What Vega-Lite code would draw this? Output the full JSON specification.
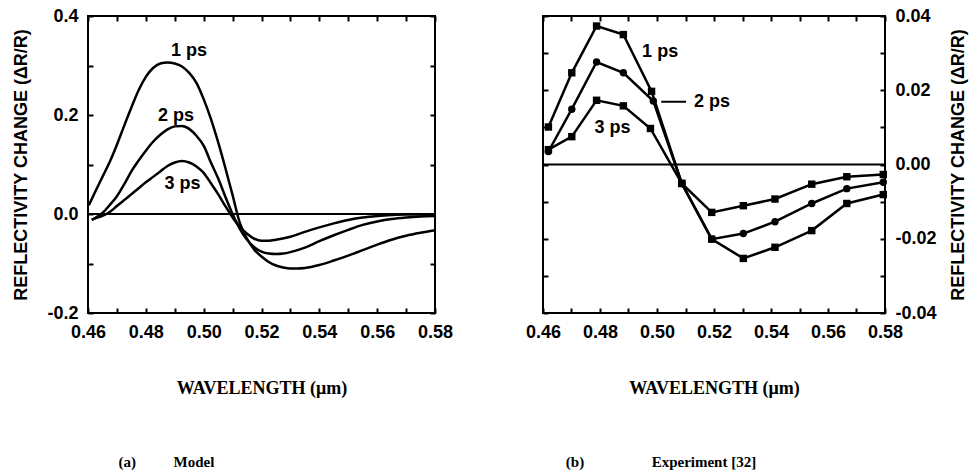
{
  "$schema": "https://vega.github.io/schema/vega-lite/v6.json",
  "background": "white",
  "padding": {"left": 11, "top": 6, "right": 0, "bottom": 0},
  "bounds": "flush",
  "spacing": 108,
  "config": {
    "view": {"stroke": "black", "strokeWidth": 2},
    "axis": {
      "domain": false, "grid": false, "ticks": true, "tickColor": "black", "tickWidth": 2, "tickSize": 5, "offset": -5,
      "labelFont": "Liberation Sans", "labelFontWeight": "bold", "labelFontSize": 18, "labelColor": "black",
      "labelPadding": 10, "labelFlush": false, "labelOverlap": false, "labelBound": false,
      "titleColor": "black"
    },
    "title": {"font": "Liberation Serif", "fontSize": 15, "fontWeight": "bold", "color": "black", "orient": "bottom", "anchor": "middle", "frame": "group", "offset": 58}
  },
  "datasets": {
    "model": [
      {"t":"1 ps","wl":0.4603,"r":0.018},{"t":"1 ps","wl":0.4625,"r":0.045},{"t":"1 ps","wl":0.465,"r":0.075},{"t":"1 ps","wl":0.4675,"r":0.105},{"t":"1 ps","wl":0.47,"r":0.14},{"t":"1 ps","wl":0.4725,"r":0.178},{"t":"1 ps","wl":0.475,"r":0.215},{"t":"1 ps","wl":0.4775,"r":0.25},{"t":"1 ps","wl":0.48,"r":0.277},{"t":"1 ps","wl":0.4825,"r":0.295},{"t":"1 ps","wl":0.485,"r":0.304},{"t":"1 ps","wl":0.4875,"r":0.306},{"t":"1 ps","wl":0.49,"r":0.304},{"t":"1 ps","wl":0.4925,"r":0.298},{"t":"1 ps","wl":0.495,"r":0.285},{"t":"1 ps","wl":0.4975,"r":0.265},{"t":"1 ps","wl":0.5,"r":0.232},{"t":"1 ps","wl":0.5025,"r":0.192},{"t":"1 ps","wl":0.505,"r":0.145},{"t":"1 ps","wl":0.5075,"r":0.093},{"t":"1 ps","wl":0.51,"r":0.038},{"t":"1 ps","wl":0.5125,"r":-0.018},{"t":"1 ps","wl":0.515,"r":-0.05},{"t":"1 ps","wl":0.5175,"r":-0.072},{"t":"1 ps","wl":0.52,"r":-0.086},{"t":"1 ps","wl":0.5225,"r":-0.097},{"t":"1 ps","wl":0.525,"r":-0.104},{"t":"1 ps","wl":0.5275,"r":-0.108},{"t":"1 ps","wl":0.53,"r":-0.11},{"t":"1 ps","wl":0.5325,"r":-0.11},{"t":"1 ps","wl":0.535,"r":-0.109},{"t":"1 ps","wl":0.54,"r":-0.103},{"t":"1 ps","wl":0.545,"r":-0.094},{"t":"1 ps","wl":0.55,"r":-0.084},{"t":"1 ps","wl":0.555,"r":-0.073},{"t":"1 ps","wl":0.56,"r":-0.062},{"t":"1 ps","wl":0.565,"r":-0.052},{"t":"1 ps","wl":0.57,"r":-0.044},{"t":"1 ps","wl":0.575,"r":-0.038},{"t":"1 ps","wl":0.58,"r":-0.033},
      {"t":"2 ps","wl":0.4613,"r":-0.012},{"t":"2 ps","wl":0.4625,"r":-0.008},{"t":"2 ps","wl":0.465,"r":0.002},{"t":"2 ps","wl":0.4675,"r":0.018},{"t":"2 ps","wl":0.47,"r":0.036},{"t":"2 ps","wl":0.4725,"r":0.06},{"t":"2 ps","wl":0.475,"r":0.086},{"t":"2 ps","wl":0.4775,"r":0.108},{"t":"2 ps","wl":0.48,"r":0.128},{"t":"2 ps","wl":0.4825,"r":0.146},{"t":"2 ps","wl":0.485,"r":0.16},{"t":"2 ps","wl":0.4875,"r":0.171},{"t":"2 ps","wl":0.49,"r":0.177},{"t":"2 ps","wl":0.4925,"r":0.178},{"t":"2 ps","wl":0.495,"r":0.172},{"t":"2 ps","wl":0.4975,"r":0.158},{"t":"2 ps","wl":0.5,"r":0.138},{"t":"2 ps","wl":0.5025,"r":0.104},{"t":"2 ps","wl":0.505,"r":0.072},{"t":"2 ps","wl":0.5075,"r":0.035},{"t":"2 ps","wl":0.51,"r":0.0},{"t":"2 ps","wl":0.5125,"r":-0.03},{"t":"2 ps","wl":0.515,"r":-0.052},{"t":"2 ps","wl":0.5175,"r":-0.067},{"t":"2 ps","wl":0.52,"r":-0.076},{"t":"2 ps","wl":0.5225,"r":-0.08},{"t":"2 ps","wl":0.525,"r":-0.081},{"t":"2 ps","wl":0.5275,"r":-0.08},{"t":"2 ps","wl":0.53,"r":-0.077},{"t":"2 ps","wl":0.535,"r":-0.068},{"t":"2 ps","wl":0.54,"r":-0.055},{"t":"2 ps","wl":0.545,"r":-0.043},{"t":"2 ps","wl":0.55,"r":-0.032},{"t":"2 ps","wl":0.555,"r":-0.022},{"t":"2 ps","wl":0.56,"r":-0.015},{"t":"2 ps","wl":0.565,"r":-0.01},{"t":"2 ps","wl":0.57,"r":-0.007},{"t":"2 ps","wl":0.575,"r":-0.005},{"t":"2 ps","wl":0.58,"r":-0.004},
      {"t":"3 ps","wl":0.4613,"r":-0.012},{"t":"3 ps","wl":0.4625,"r":-0.009},{"t":"3 ps","wl":0.465,"r":-0.004},{"t":"3 ps","wl":0.4675,"r":0.004},{"t":"3 ps","wl":0.47,"r":0.016},{"t":"3 ps","wl":0.4725,"r":0.028},{"t":"3 ps","wl":0.475,"r":0.04},{"t":"3 ps","wl":0.4775,"r":0.052},{"t":"3 ps","wl":0.48,"r":0.064},{"t":"3 ps","wl":0.4825,"r":0.075},{"t":"3 ps","wl":0.485,"r":0.086},{"t":"3 ps","wl":0.4875,"r":0.097},{"t":"3 ps","wl":0.49,"r":0.104},{"t":"3 ps","wl":0.4925,"r":0.107},{"t":"3 ps","wl":0.495,"r":0.104},{"t":"3 ps","wl":0.4975,"r":0.096},{"t":"3 ps","wl":0.5,"r":0.083},{"t":"3 ps","wl":0.5025,"r":0.062},{"t":"3 ps","wl":0.505,"r":0.04},{"t":"3 ps","wl":0.5075,"r":0.016},{"t":"3 ps","wl":0.51,"r":-0.007},{"t":"3 ps","wl":0.5125,"r":-0.026},{"t":"3 ps","wl":0.515,"r":-0.04},{"t":"3 ps","wl":0.5175,"r":-0.05},{"t":"3 ps","wl":0.52,"r":-0.054},{"t":"3 ps","wl":0.5225,"r":-0.054},{"t":"3 ps","wl":0.525,"r":-0.052},{"t":"3 ps","wl":0.53,"r":-0.046},{"t":"3 ps","wl":0.535,"r":-0.036},{"t":"3 ps","wl":0.54,"r":-0.027},{"t":"3 ps","wl":0.545,"r":-0.019},{"t":"3 ps","wl":0.55,"r":-0.012},{"t":"3 ps","wl":0.555,"r":-0.007},{"t":"3 ps","wl":0.56,"r":-0.004},{"t":"3 ps","wl":0.565,"r":-0.002},{"t":"3 ps","wl":0.57,"r":-0.001},{"t":"3 ps","wl":0.58,"r":-0.001}
    ],
    "exp": [
      {"t":"1 ps","wl":0.4619,"r":0.0101},{"t":"1 ps","wl":0.4701,"r":0.0247},{"t":"1 ps","wl":0.4788,"r":0.0373},{"t":"1 ps","wl":0.4882,"r":0.035},{"t":"1 ps","wl":0.4981,"r":0.0197},{"t":"1 ps","wl":0.5087,"r":-0.0051},{"t":"1 ps","wl":0.5192,"r":-0.0201},{"t":"1 ps","wl":0.5303,"r":-0.0253},{"t":"1 ps","wl":0.5414,"r":-0.0223},{"t":"1 ps","wl":0.5543,"r":-0.0178},{"t":"1 ps","wl":0.5666,"r":-0.0105},{"t":"1 ps","wl":0.5794,"r":-0.0081},
      {"t":"2 ps","wl":0.4619,"r":0.0035},{"t":"2 ps","wl":0.4701,"r":0.0149},{"t":"2 ps","wl":0.4788,"r":0.0276},{"t":"2 ps","wl":0.4882,"r":0.0247},{"t":"2 ps","wl":0.4987,"r":0.0171},{"t":"2 ps","wl":0.5087,"r":-0.0051},{"t":"2 ps","wl":0.5192,"r":-0.0201},{"t":"2 ps","wl":0.5303,"r":-0.0186},{"t":"2 ps","wl":0.5414,"r":-0.0154},{"t":"2 ps","wl":0.5543,"r":-0.0105},{"t":"2 ps","wl":0.5666,"r":-0.0065},{"t":"2 ps","wl":0.5794,"r":-0.0048},
      {"t":"3 ps","wl":0.4619,"r":0.004},{"t":"3 ps","wl":0.4701,"r":0.0075},{"t":"3 ps","wl":0.4788,"r":0.0173},{"t":"3 ps","wl":0.4882,"r":0.0158},{"t":"3 ps","wl":0.4977,"r":0.0097},{"t":"3 ps","wl":0.5087,"r":-0.0051},{"t":"3 ps","wl":0.5192,"r":-0.0129},{"t":"3 ps","wl":0.5303,"r":-0.0111},{"t":"3 ps","wl":0.5414,"r":-0.0093},{"t":"3 ps","wl":0.5543,"r":-0.0053},{"t":"3 ps","wl":0.5666,"r":-0.0033},{"t":"3 ps","wl":0.5794,"r":-0.0027}
    ],
    "mlab": [
      {"label":"1 ps","wl":0.4949,"r":0.329},{"label":"2 ps","wl":0.4904,"r":0.198},{"label":"3 ps","wl":0.4927,"r":0.0606}
    ],
    "elab": [
      {"label":"1 ps","wl":0.5011,"r":0.0303},{"label":"2 ps","wl":0.5193,"r":0.0169},{"label":"3 ps","wl":0.4844,"r":0.0097}
    ],
    "leader": [{"wl":0.5015,"wl2":0.5102,"r":0.0169}],
    "zero": [{"r":0}]
  },
  "hconcat": [
    {
      "width": 347, "height": 297,
      "title": {"text": "(a)\u2003\u2003\u00a0\u00a0Model", "dx": -95},
      "resolve": {"axis": {"x": "independent", "y": "independent"}},
      "layer": [
        {
          "data": {"name": "model"},
          "mark": {"type": "line", "color": "black", "strokeWidth": 2.5, "interpolate": "monotone"},
          "encoding": {
            "x": {"field": "wl", "type": "quantitative", "scale": {"domain": [0.46, 0.58], "nice": false, "zero": false},
              "axis": {"orient": "bottom", "values": [0.46,0.47,0.48,0.49,0.5,0.51,0.52,0.53,0.54,0.55,0.56,0.57,0.58],
                "labelExpr": "abs(datum.value*50 - round(datum.value*50)) < 0.001 ? format(datum.value, '.2f') : ''",
                "title": "WAVELENGTH (\u03bcm)", "titleFont": "Liberation Serif", "titleFontSize": 18, "titleFontWeight": "bold", "titlePadding": 38}},
            "y": {"field": "r", "type": "quantitative", "scale": {"domain": [-0.2, 0.4], "nice": false, "zero": false},
              "axis": {"orient": "left", "values": [-0.2,-0.1,0,0.1,0.2,0.3,0.4],
                "labelExpr": "abs(datum.value*5 - round(datum.value*5)) < 0.001 ? replace(format(datum.value, '.1f'), '\u2212', '-') : ''",
                "title": "REFLECTIVITY CHANGE (\u0394R/R)", "titleFont": "Liberation Sans", "titleFontSize": 18, "titleFontWeight": "bold", "titlePadding": 16}},
            "detail": {"field": "t"}
          }
        },
        {
          "data": {"name": "zero"},
          "mark": {"type": "rule", "color": "black", "strokeWidth": 2},
          "encoding": {"y": {"field": "r", "type": "quantitative", "axis": null}}
        },
        {
          "data": {"name": "mlab"},
          "mark": {"type": "text", "font": "Liberation Sans", "fontWeight": "bold", "fontSize": 18, "color": "black"},
          "encoding": {
            "x": {"field": "wl", "type": "quantitative", "axis": {"orient": "top", "values": [0.46,0.47,0.48,0.49,0.5,0.51,0.52,0.53,0.54,0.55,0.56,0.57,0.58], "labels": false, "title": null}},
            "y": {"field": "r", "type": "quantitative", "axis": {"orient": "right", "values": [-0.2,-0.1,0,0.1,0.2,0.3,0.4], "labels": false, "title": null}},
            "text": {"field": "label"}
          }
        }
      ]
    },
    {
      "width": 342, "height": 297,
      "title": {"text": "(b)\u2003\u2003\u2003\u2003\u00a0\u00a0Experiment [32]", "dx": -53},
      "resolve": {"axis": {"x": "independent", "y": "independent"}},
      "layer": [
        {
          "data": {"name": "exp"},
          "mark": {"type": "line", "color": "black", "strokeWidth": 2.5},
          "encoding": {
            "x": {"field": "wl", "type": "quantitative", "scale": {"domain": [0.46, 0.58], "nice": false, "zero": false},
              "axis": {"orient": "bottom", "values": [0.46,0.47,0.48,0.49,0.5,0.51,0.52,0.53,0.54,0.55,0.56,0.57,0.58],
                "labelExpr": "abs(datum.value*50 - round(datum.value*50)) < 0.001 ? format(datum.value, '.2f') : ''",
                "title": "WAVELENGTH (\u03bcm)", "titleFont": "Liberation Serif", "titleFontSize": 18, "titleFontWeight": "bold", "titlePadding": 38}},
            "y": {"field": "r", "type": "quantitative", "scale": {"domain": [-0.04, 0.04], "nice": false, "zero": false},
              "axis": {"orient": "right", "values": [-0.04,-0.03,-0.02,-0.01,0,0.01,0.02,0.03,0.04],
                "labelExpr": "abs(datum.value*50 - round(datum.value*50)) < 0.001 ? replace(format(datum.value, '.2f'), '\u2212', '-') : ''",
                "title": "REFLECTIVITY CHANGE (\u0394R/R)", "titleFont": "Liberation Sans", "titleFontSize": 18, "titleFontWeight": "bold", "titlePadding": 31, "titleAngle": 270}},
            "detail": {"field": "t"}
          }
        },
        {
          "data": {"name": "exp"},
          "mark": {"type": "point", "filled": true, "color": "black", "opacity": 1, "size": 55},
          "encoding": {
            "x": {"field": "wl", "type": "quantitative", "axis": null},
            "y": {"field": "r", "type": "quantitative", "axis": null},
            "shape": {"field": "t", "type": "nominal", "scale": {"domain": ["1 ps","2 ps","3 ps"], "range": ["square","circle","square"]}, "legend": null}
          }
        },
        {
          "data": {"name": "zero"},
          "mark": {"type": "rule", "color": "black", "strokeWidth": 2},
          "encoding": {"y": {"field": "r", "type": "quantitative", "axis": null}}
        },
        {
          "data": {"name": "leader"},
          "mark": {"type": "rule", "color": "black", "strokeWidth": 2},
          "encoding": {
            "x": {"field": "wl", "type": "quantitative", "axis": null},
            "x2": {"field": "wl2"},
            "y": {"field": "r", "type": "quantitative", "axis": null}
          }
        },
        {
          "data": {"name": "elab"},
          "mark": {"type": "text", "font": "Liberation Sans", "fontWeight": "bold", "fontSize": 18, "color": "black"},
          "encoding": {
            "x": {"field": "wl", "type": "quantitative", "axis": {"orient": "top", "values": [0.46,0.47,0.48,0.49,0.5,0.51,0.52,0.53,0.54,0.55,0.56,0.57,0.58], "labels": false, "title": null}},
            "y": {"field": "r", "type": "quantitative", "axis": {"orient": "left", "values": [-0.04,-0.03,-0.02,-0.01,0,0.01,0.02,0.03,0.04], "labels": false, "title": null}},
            "text": {"field": "label"}
          }
        }
      ]
    }
  ]
}
